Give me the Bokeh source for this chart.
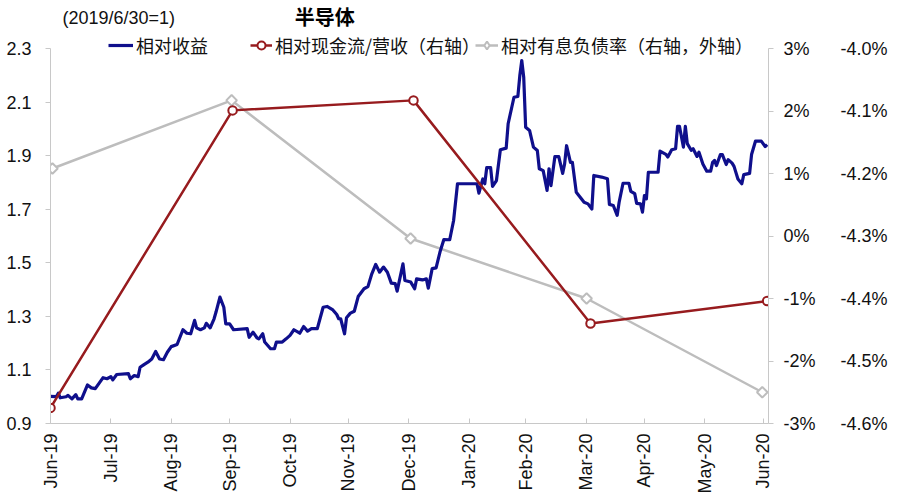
import math
from bokeh.plotting import figure
from bokeh.layouts import column
from bokeh.models import (Range1d, LinearAxis, FixedTicker, PrintfTickFormatter,
                          Legend, LegendItem)
from bokeh.core.properties import value
from bokeh.embed import file_html
from bokeh.resources import INLINE

# x positions: days since 2019-06-30
month_ticks = [0, 31, 62, 92, 123, 153, 184, 215, 244, 275, 305, 336, 366]
month_labels = ["Jun-19", "Jul-19", "Aug-19", "Sep-19", "Oct-19", "Nov-19", "Dec-19",
                "Jan-20", "Feb-20", "Mar-20", "Apr-20", "May-20", "Jun-20"]

left_ticks = [0.9, 1.1, 1.3, 1.5, 1.7, 1.9, 2.1, 2.3]
cf_ticks = [-3, -2, -1, 0, 1, 2, 3]
debt_ticks = [-4.6, -4.5, -4.4, -4.3, -4.2, -4.1, -4.0]

title_text = "半导体"
base_text = "(2019/6/30=1)"
legend_labels = ["相对收益", "相对现金流/营收（右轴）", "相对有息负债率（右轴，外轴）"]

# 相对收益 (left axis)
rel_days = [0, 3, 4, 5, 8, 9, 11, 13, 14, 16, 19, 21, 23, 27, 29, 31, 32, 34, 40, 41,
            43, 45, 46, 48, 50, 52, 54, 56, 58, 60, 62, 65, 68, 70, 72, 74, 75, 77, 79, 80,
            82, 84, 85, 87, 89, 90, 92, 94, 101, 102, 104, 106, 107, 109, 110, 113, 115, 116, 119, 121,
            123, 125, 128, 130, 132, 134, 137, 140, 142, 145, 147, 148, 149, 151, 152, 154, 156, 158, 161, 163,
            165, 167, 169, 171, 173, 175, 177, 178, 181, 182, 185, 187, 188, 191, 193, 194, 196, 198, 200, 202,
            205, 207, 209, 219, 220, 222, 223, 224, 226, 227, 229, 231, 234, 235, 238, 240, 241, 242, 243, 244,
            246, 248, 250, 251, 253, 255, 256, 257, 259, 261, 263, 264, 265, 267, 268, 270, 272, 274, 276, 278,
            279, 283, 286, 287, 289, 291, 292, 294, 297, 298, 300, 301, 303, 304, 305, 306, 307, 312, 313, 316,
            317, 319, 321, 322, 323, 325, 326, 327, 329, 330, 332, 333, 335, 337, 339, 340, 341, 342, 344, 345,
            347, 348, 350, 351, 353, 355, 356, 359, 360, 362, 365, 367, 368]
rel_vals = [1.001, 1.000, 1.013, 0.996, 1.000, 1.005, 0.992, 1.008, 0.992, 0.992, 1.044, 1.033, 1.030, 1.071, 1.067, 1.075, 1.063, 1.083, 1.086, 1.067,
            1.079, 1.075, 1.110, 1.120, 1.129, 1.141, 1.169, 1.141, 1.138, 1.166, 1.187, 1.195, 1.250, 1.237, 1.235, 1.285, 1.257, 1.250, 1.257, 1.274,
            1.257, 1.291, 1.316, 1.372, 1.334, 1.272, 1.272, 1.250, 1.254, 1.222, 1.241, 1.220, 1.216, 1.235, 1.204, 1.179, 1.179, 1.204, 1.204, 1.216,
            1.229, 1.250, 1.237, 1.262, 1.245, 1.254, 1.254, 1.334, 1.337, 1.324, 1.307, 1.291, 1.291, 1.235, 1.295, 1.312, 1.319, 1.374, 1.403, 1.411,
            1.459, 1.494, 1.465, 1.484, 1.465, 1.424, 1.422, 1.394, 1.496, 1.434, 1.428, 1.403, 1.440, 1.436, 1.440, 1.405, 1.478, 1.481, 1.540, 1.587,
            1.586, 1.658, 1.795, 1.795, 1.760, 1.813, 1.795, 1.855, 1.855, 1.785, 1.807, 1.922, 1.928, 2.019, 2.118, 2.121, 2.199, 2.255, 2.193, 2.006,
            1.994, 1.932, 1.919, 1.851, 1.844, 1.770, 1.851, 1.788, 1.896, 1.896, 1.834, 1.869, 1.937, 1.875, 1.875, 1.763, 1.745, 1.726, 1.720, 1.701,
            1.826, 1.820, 1.814, 1.718, 1.714, 1.677, 1.726, 1.797, 1.797, 1.767, 1.758, 1.722, 1.720, 1.689, 1.751, 1.739, 1.838, 1.838, 1.917, 1.905,
            1.895, 1.922, 1.926, 2.009, 2.009, 1.932, 2.009, 1.945, 1.920, 1.926, 1.897, 1.913, 1.869, 1.842, 1.842, 1.875, 1.882, 1.863, 1.904, 1.904,
            1.867, 1.885, 1.872, 1.860, 1.813, 1.795, 1.829, 1.834, 1.904, 1.954, 1.954, 1.934, 1.941]

# 相对现金流/营收（右轴, %）
cf_days = [0, 93.5, 186.4, 277.3, 368.0]
cf_vals = [-2.75, 2.01, 2.17, -1.40, -1.04]

# 相对有息负债率（右轴，外轴, %）
debt_days = [1.0, 93.0, 184.9, 275.3, 365.5]
debt_vals = [-4.192, -4.083, -4.304, -4.400, -4.550]

n = min(len(rel_days), len(rel_vals))
rel_days = rel_days[:n]
rel_vals = rel_vals[:n]

BLUE = "#0F0F8C"
RED = "#971B1E"
GRAY = "#BDBDBD"
AXIS = "#C8C8C8"
TXT = "#111111"
NUM_FONT = "Liberation Sans"
CJK_FONT = "Noto Sans CJK SC"

W = 898
STRIP_H = 32
FRAME_W = 718
FRAME_H = 423 - STRIP_H   # frame spans from the strip bottom down to the x axis
PX = 375.0                # pixel height of the axis bounds

# ---------- title strip ----------
strip = figure(width=W, height=STRIP_H, x_range=Range1d(0, W), y_range=Range1d(STRIP_H, 0),
               output_backend="svg", toolbar_location=None,
               x_axis_location=None, y_axis_location=None,
               min_border=0, min_border_left=0, min_border_right=0,
               min_border_top=0, min_border_bottom=0)
strip.grid.visible = False
strip.outline_line_color = None
strip.text(x=[343], y=[16], text=[title_text], text_align="center", text_baseline="middle",
           text_font=value(CJK_FONT), text_font_style="bold", text_font_size="20px",
           text_color="#000000")
strip.text(x=[15], y=[17], text=[base_text], text_align="left", text_baseline="middle",
           text_font=value(NUM_FONT), text_font_size="18px", text_color=TXT)

# ---------- main chart ----------
def top_of(lo, hi):
    return lo + (hi - lo) * FRAME_H / PX

p = figure(frame_width=FRAME_W, frame_height=FRAME_H,
           x_range=Range1d(0, 368.7), y_range=Range1d(0.9, top_of(0.9, 2.3)),
           output_backend="svg", toolbar_location=None,
           min_border_left=50, min_border_top=0, min_border_right=W - 50 - FRAME_W,
           min_border_bottom=74)
p.extra_y_ranges = {"cf": Range1d(-3, top_of(-3, 3)), "debt": Range1d(-4.6, top_of(-4.6, -4.0))}
p.xgrid.visible = False
p.ygrid.visible = False
p.outline_line_color = None


def style_axis(ax, tick_in, tick_out, standoff):
    ax.axis_line_color = AXIS
    ax.major_tick_line_color = AXIS
    ax.major_tick_in = tick_in
    ax.major_tick_out = tick_out
    ax.minor_tick_line_color = None
    ax.major_label_standoff = standoff
    ax.major_label_text_font = NUM_FONT
    ax.major_label_text_font_size = "18px"
    ax.major_label_text_color = TXT


ya = p.yaxis[0]
ya.ticker = FixedTicker(ticks=left_ticks)
ya.formatter = PrintfTickFormatter(format="%.1f")
ya.bounds = (0.9, 2.3)
style_axis(ya, 0, 5, 14)

xa = p.xaxis[0]
xa.ticker = FixedTicker(ticks=month_ticks)
xa.major_label_overrides = {t: l for t, l in zip(month_ticks, month_labels)}
xa.major_label_orientation = math.pi / 2
style_axis(xa, 5, 0, 10)

ax_cf = LinearAxis(y_range_name="cf", ticker=FixedTicker(ticks=cf_ticks),
                   formatter=PrintfTickFormatter(format="%d%%"), bounds=(-3, 3))
style_axis(ax_cf, 0, 5, 10)
p.add_layout(ax_cf, "right")

ax_debt = LinearAxis(y_range_name="debt", ticker=FixedTicker(ticks=debt_ticks),
                     formatter=PrintfTickFormatter(format="%.1f%%"), bounds=(-4.6, -4.0))
style_axis(ax_debt, 0, 0, 22)
ax_debt.axis_line_color = None
ax_debt.major_tick_line_color = None
p.add_layout(ax_debt, "right")

# series (gray under blue, red on top)
g_line = p.line(debt_days, debt_vals, y_range_name="debt", line_color=GRAY, line_width=2.5)
g_pts = p.scatter(debt_days, debt_vals, y_range_name="debt", marker="square", angle=math.pi / 4,
                  size=7.5, fill_color="white", line_color=GRAY, line_width=2)
# legend-only diamond swatch (a single non-plotted entry)
g_key = p.scatter(x=[float("nan")], y=[float("nan")], y_range_name="debt", marker="diamond",
                  size=12, fill_color="white", line_color=GRAY, line_width=2)
b_line = p.line(rel_days, rel_vals, line_color=BLUE, line_width=3.2, line_join="round")
r_line = p.line(cf_days, cf_vals, y_range_name="cf", line_color=RED, line_width=2.5)
r_pts = p.scatter(cf_days, cf_vals, y_range_name="cf", marker="circle",
                  size=8.5, fill_color="white", line_color=RED, line_width=2)


def make_legend(label, renderers, loc, gw):
    lg = Legend(items=[LegendItem(label=label, renderers=renderers)], location=loc,
                orientation="horizontal", padding=0, margin=0, spacing=0,
                glyph_width=gw, glyph_height=20, label_standoff=3, label_height=20,
                label_text_font=CJK_FONT, label_text_font_size="18px",
                label_text_color=TXT,
                background_fill_alpha=0, border_line_alpha=0)
    p.add_layout(lg)


make_legend(legend_labels[0], [b_line], (58, 365), 25)
make_legend(legend_labels[1], [r_line, r_pts], (200, 365), 22)
make_legend(legend_labels[2], [g_line, g_key], (425, 365), 23)

layout = column(strip, p, spacing=0)
open("out.html", "w").write(file_html(layout, INLINE))
